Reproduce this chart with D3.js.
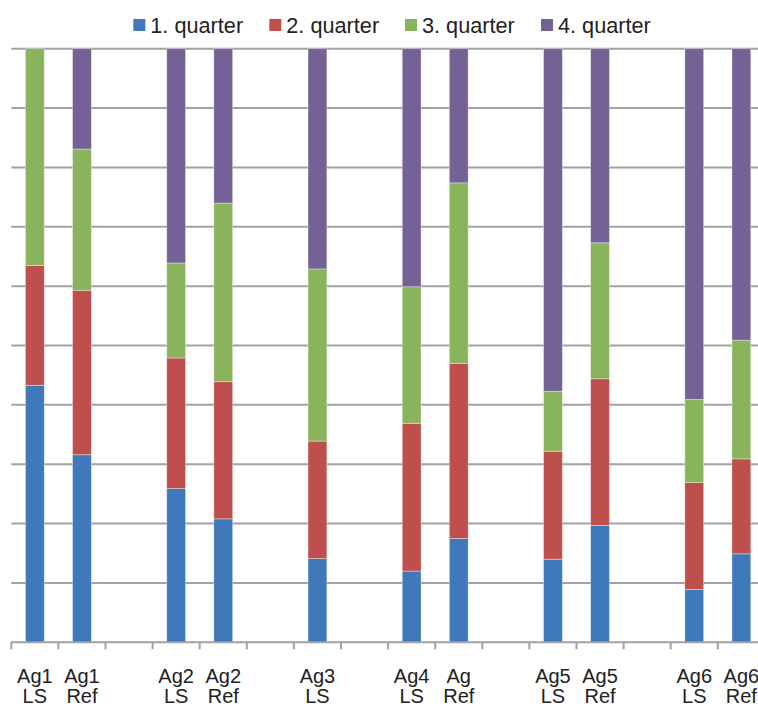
<!DOCTYPE html>
<html>
<head>
<meta charset="utf-8">
<script src="https://cdn.jsdelivr.net/npm/d3@7"></script>
<style>
  body { margin: 0; background: #fff; }
  svg { display: block; font-family: "Liberation Sans", Arial, sans-serif; }
</style>
</head>
<body>
<script>
// categories (blank slots are gaps between groups)
const categories = ["Ag1 LS", "Ag1 Ref", "", "Ag2 LS", "Ag2 Ref", "", "Ag3 LS", "",
  "Ag4 LS", "Ag Ref", "", "Ag5 LS", "Ag5 Ref", "", "Ag6 LS", "Ag6 Ref"];

// percentage shares per quarter
const q1 = [43.3, 31.6, 0, 25.9, 20.8, 0, 14.1, 0, 12.0, 17.5, 0, 14.0, 19.7, 0, 8.9, 14.9];
const q2 = [20.2, 27.7, 0, 22.0, 23.1, 0, 19.8, 0, 24.9, 29.5, 0, 18.2, 24.7, 0, 18.0, 16.0];
const q3 = [36.5, 23.8, 0, 16.0, 30.1, 0, 29.0, 0, 23.0, 30.4, 0, 10.1, 22.9, 0, 14.0, 20.0];
const q4 = [0.0, 16.9, 0, 36.1, 26.0, 0, 37.1, 0, 40.1, 22.6, 0, 57.7, 32.7, 0, 59.1, 49.1];

const seriesNames = ["1. quarter", "2. quarter", "3. quarter", "4. quarter"];
const colors = ["#4079b9", "#be4f4d", "#8ab45c", "#746297"];
const yTicks = [0, 10, 20, 30, 40, 50, 60, 70, 80, 90, 100];

const W = 758, H = 707;
const plotLeft = 11.3, step = 47.1;
const plotTop = 48.7, plotBottom = 642.3;

const rows = categories.map((c, i) => ({ key: i, label: c, q1: q1[i], q2: q2[i], q3: q3[i], q4: q4[i] }));

const svg = d3.select("body").append("svg")
  .attr("width", W)
  .attr("height", H);

const x = d3.scaleBand()
  .domain(rows.map(d => d.key))
  .range([plotLeft, plotLeft + step * categories.length]);

const y = d3.scaleLinear().domain([0, 100]).range([plotBottom, plotTop]);

// gridlines
svg.append("g")
  .selectAll("line")
  .data(yTicks.filter(t => t > 0))
  .join("line")
  .attr("x1", plotLeft)
  .attr("x2", W)
  .attr("y1", d => y(d))
  .attr("y2", d => y(d))
  .attr("stroke", "#a2a2a6")
  .attr("stroke-width", 2);

// stacked bars
const stack = d3.stack().keys(["q1", "q2", "q3", "q4"]);
const layers = stack(rows);

const barW = x.bandwidth() * 0.4;

svg.append("g")
  .selectAll("g")
  .data(layers)
  .join("g")
  .attr("fill", (d, i) => colors[i])
  .selectAll("rect")
  .data(d => d.filter(s => s[1] - s[0] > 0))
  .join("rect")
  .attr("x", d => x(d.data.key) + (x.bandwidth() - barW) / 2)
  .attr("width", barW)
  .attr("y", d => y(d[1]))
  .attr("height", d => y(d[0]) - y(d[1]))
  .attr("stroke", "#ffffff")
  .attr("stroke-opacity", 0.45)
  .attr("stroke-width", 0.8);

// x axis line and ticks at category boundaries
const axis = svg.append("g");
axis.append("line")
  .attr("x1", plotLeft)
  .attr("x2", W)
  .attr("y1", plotBottom)
  .attr("y2", plotBottom)
  .attr("stroke", "#a2a2a6")
  .attr("stroke-width", 2);

const bounds = d3.range(categories.length + 1).map(i => plotLeft + i * x.step());
axis.selectAll(".tick")
  .data(bounds)
  .join("line")
  .attr("class", "tick")
  .attr("x1", d => d)
  .attr("x2", d => d)
  .attr("y1", plotBottom)
  .attr("y2", plotBottom + 7)
  .attr("stroke", "#a2a2a6")
  .attr("stroke-width", 2);

// category labels, two lines
const labels = svg.append("g")
  .selectAll("text")
  .data(rows.filter(d => d.label))
  .join("text")
  .attr("x", d => x(d.key) + x.bandwidth() / 2)
  .attr("y", 683)
  .attr("text-anchor", "middle")
  .attr("fill", "#222")
  .style("font-size", "20px");

labels.selectAll("tspan")
  .data(d => d.label.split(" ").map(t => ({ t, x: x(d.key) + x.bandwidth() / 2 })))
  .join("tspan")
  .attr("x", d => d.x)
  .attr("dy", (d, i) => i === 0 ? 0 : 20)
  .text(d => d.t);

// legend
const legendX = [133.3, 269.3, 405, 541];
const legend = svg.append("g")
  .selectAll("g")
  .data(seriesNames)
  .join("g")
  .attr("transform", (d, i) => `translate(${legendX[i]},0)`);

legend.append("rect")
  .attr("x", 0)
  .attr("y", 19)
  .attr("width", 12)
  .attr("height", 12)
  .attr("fill", (d, i) => colors[i]);

legend.append("text")
  .attr("x", 17)
  .attr("y", 33)
  .attr("fill", "#222")
  .style("font-size", "21.7px")
  .text(d => d);
</script>
</body>
</html>
